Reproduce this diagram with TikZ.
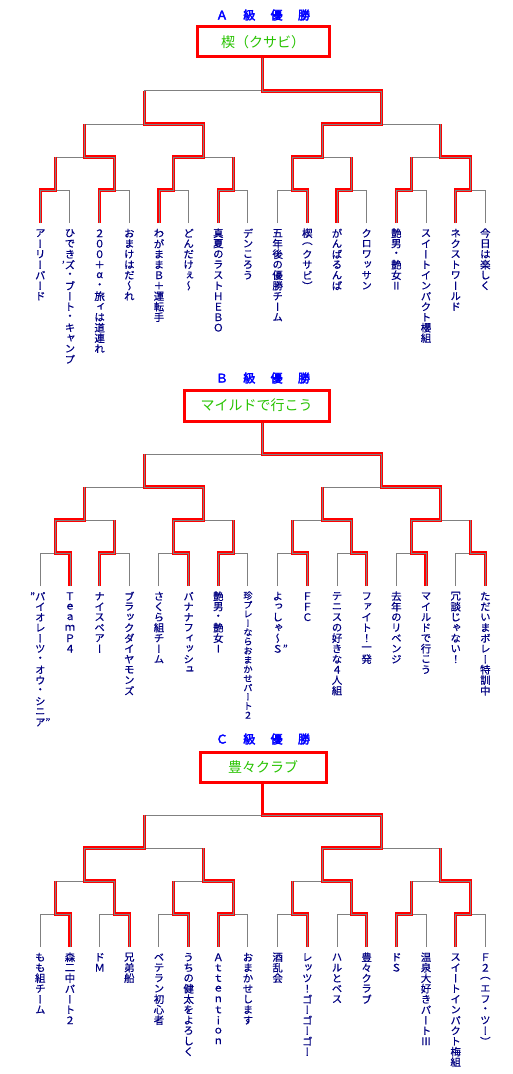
\documentclass[tikz,border=0pt]{standalone}
\usepackage{fontspec}
\newfontfamily\jp{Noto Sans CJK JP}
\newfontfamily\jpv[RawFeature=+vert,FakeBold=0.5]{Noto Sans CJK JP}
\newfontfamily\jpb[FakeBold=3]{Noto Sans CJK JP}
\definecolor{navy}{RGB}{0,0,128}
\definecolor{wingreen}{RGB}{40,195,0}
\definecolor{lgray}{RGB}{128,128,128}
\newlength\vtpitch
\setlength\vtpitch{7.875pt}
\newcommand\vtc[1]{\vbox to \vtpitch{\vss\hbox to 8pt{\hss#1\hss}\vss}}
\ExplSyntaxOn
\NewDocumentCommand\vt{m}{\vbox{\offinterlineskip\tl_map_inline:nn{#1}{\vtc{##1}}}}
\ExplSyntaxOff
\newcommand\tb[1]{\makebox[20.5pt]{#1}}
\tikzset{
 skel/.style={draw=lgray, line width=0.75pt},
 win/.style={draw=red, line width=0.9pt, double=lgray, double distance=0.55pt},
 team/.style={anchor=north, inner sep=0pt, yshift=-3.5pt, text=navy, font=\jpv\fontsize{7.8pt}{7.875pt}\selectfont},
 winbox/.style={draw=red, line width=2.25pt, inner sep=0pt, text=wingreen, font=\jp\fontsize{10.5pt}{12pt}\selectfont},
 ttl/.style={inner sep=0pt, text=blue, font=\jpb\fontsize{9pt}{10pt}\selectfont},
}
\newcommand\bracket[3]{%
 \foreach \i in {0,...,15}{\coordinate (#1-b-\i) at ({40.3+29.67*\i},{223+#2});}
 \foreach \i in {0,...,7}{\coordinate (#1-4-\i) at ({40.3+29.67*(2*\i+0.5)},{190+#2});}
 \foreach \i in {0,...,3}{\coordinate (#1-3-\i) at ({40.3+29.67*(4*\i+1.5)},{157+#2});}
 \foreach \i in {0,1}{\coordinate (#1-2-\i) at ({40.3+29.67*(8*\i+3.5)},{124+#2});}
 \coordinate (#1-1) at ({40.3+29.67*7.5},{91+#2});
 \foreach \i in {0,...,15}{\pgfmathtruncatemacro\jj{\i/2}\draw[skel] (#1-b-\i) |- (#1-4-\jj);}
 \foreach \i in {0,...,7}{\pgfmathtruncatemacro\kk{\i/2}\draw[skel] (#1-4-\i) |- (#1-3-\kk);}
 \foreach \i in {0,...,3}{\pgfmathtruncatemacro\mm{\i/2}\draw[skel] (#1-3-\i) |- (#1-2-\mm);}
 \foreach \i in {0,1}{\draw[skel] (#1-2-\i) |- (#1-1);}
 \foreach \w [count=\i from 0] in {#3}{%
   \pgfmathtruncatemacro\jj{\i/2}\pgfmathtruncatemacro\kk{\i/4}\pgfmathtruncatemacro\mm{\i/8}%
   \ifcase\w\or
     \draw[win] (#1-b-\i) |- (#1-4-\jj) -- (#1-4-\jj |- #1-3-\kk);
   \or
     \draw[win] (#1-b-\i) |- (#1-4-\jj) |- (#1-3-\kk) -- (#1-3-\kk |- #1-2-\mm);
   \or
     \draw[win] (#1-b-\i) |- (#1-4-\jj) |- (#1-3-\kk) |- (#1-2-\mm) -- (#1-2-\mm |- #1-1);
   \or
     \draw[win] (#1-b-\i) |- (#1-4-\jj) |- (#1-3-\kk) |- (#1-2-\mm) |- (#1-1) -- (#1-1 |- #1-win.south);
   \fi}%
}
\begin{document}
\begin{tikzpicture}[x=0.75pt,y=-0.75pt]
\fill[white] (0,0) rectangle (513,1074);
\useasboundingbox (0,0) rectangle (513,1074);
% ---------- A ----------
\node[ttl] (A-title) at (263,15) {\tb{Ａ}\tb{級}\tb{優}\tb{勝}};
\node[winbox, minimum width=99pt, minimum height=22.5pt] (A-win) at (263,42) {楔（クサビ）};
\bracket{A}{0}{1,0,2,0,3,0,1,0,0,4,1,0,1,0,2,0}
\node[team] (A-t-0) at (A-b-0) {\vt{アーリーバード}};
\node[team] (A-t-1) at (A-b-1) {\vt{ひでき{\llap{’}ズ}・ブート・キャンプ}};
\node[team] (A-t-2) at (A-b-2) {\vt{２００＋α・旅ィは道連れ}};
\node[team] (A-t-3) at (A-b-3) {\vt{おまけはだ～れ}};
\node[team] (A-t-4) at (A-b-4) {\vt{わがままＢ＋運転手}};
\node[team] (A-t-5) at (A-b-5) {\vt{どんだけぇ～}};
\node[team] (A-t-6) at (A-b-6) {\vt{真夏のラストＨＥＢＯ}};
\node[team] (A-t-7) at (A-b-7) {\vt{デンころう}};
\node[team] (A-t-8) at (A-b-8) {\vt{五年後の優勝チーム}};
\node[team] (A-t-9) at (A-b-9) {\vt{楔︵クサビ︶}};
\node[team] (A-t-10) at (A-b-10) {\vt{がんばるんば}};
\node[team] (A-t-11) at (A-b-11) {\vt{クロワッサン}};
\node[team] (A-t-12) at (A-b-12) {\vt{艶男・艶女Ⅱ}};
\node[team] (A-t-13) at (A-b-13) {\vt{スイートインパクト櫻組}};
\node[team] (A-t-14) at (A-b-14) {\vt{ネクストワールド}};
\node[team] (A-t-15) at (A-b-15) {\vt{今日は楽しく}};
% ---------- B ----------
\node[ttl] (B-title) at (263,378) {\tb{Ｂ}\tb{級}\tb{優}\tb{勝}};
\node[winbox, minimum width=108.75pt, minimum height=23.25pt] (B-win) at (256.5,405.5) {マイルドで行こう};
\bracket{B}{363}{0,2,1,0,0,3,1,0,0,1,0,2,0,4,0,1}
\node[team] (B-t-0) at (B-b-0) {\vt{{\llap{”}パ}イオレーツ・オウ・シニ{ア\rlap{”}}}};
\node[team] (B-t-1) at (B-b-1) {\vt{ＴｅａｍＰ４}};
\node[team] (B-t-2) at (B-b-2) {\vt{ナイスペアー}};
\node[team] (B-t-3) at (B-b-3) {\vt{ブラックダイヤモンズ}};
\node[team] (B-t-4) at (B-b-4) {\vt{さくら組チーム}};
\node[team] (B-t-5) at (B-b-5) {\vt{バナナフィッシュ}};
\node[team] (B-t-6) at (B-b-6) {\vt{艶男・艶女Ⅰ}};
\node[team] (B-t-7) at (B-b-7) {\setlength\vtpitch{6.9pt}\fontsize{6.9pt}{6.9pt}\selectfont\vt{珍プレーならおまかせパート２}};
\node[team] (B-t-8) at (B-b-8) {\vt{よっしゃ～{Ｓ\rlap{”}}}};
\node[team] (B-t-9) at (B-b-9) {\vt{ＦＦＣ}};
\node[team] (B-t-10) at (B-b-10) {\vt{テニスの好きな４人組}};
\node[team] (B-t-11) at (B-b-11) {\vt{ファイト！一発}};
\node[team] (B-t-12) at (B-b-12) {\vt{去年のリベンジ}};
\node[team] (B-t-13) at (B-b-13) {\vt{マイルドで行こう}};
\node[team] (B-t-14) at (B-b-14) {\vt{冗談じゃない！}};
\node[team] (B-t-15) at (B-b-15) {\vt{ただいまボレー特訓中}};
% ---------- C ----------
\node[ttl] (C-title) at (263,739) {\tb{Ｃ}\tb{級}\tb{優}\tb{勝}};
\node[winbox, minimum width=94.5pt, minimum height=22.5pt] (C-win) at (263,767) {豊々クラブ};
\bracket{C}{724}{0,1,0,3,0,1,2,0,0,1,0,4,1,0,2,0}
\draw[red, line width=2.25pt] (C-1) -- (C-1 |- C-win.south);
\node[team] (C-t-0) at (C-b-0) {\vt{もも組チーム}};
\node[team] (C-t-1) at (C-b-1) {\vt{森二中パート２}};
\node[team] (C-t-2) at (C-b-2) {\vt{ドＭ}};
\node[team] (C-t-3) at (C-b-3) {\vt{兄弟船}};
\node[team] (C-t-4) at (C-b-4) {\vt{ベテラン初心者}};
\node[team] (C-t-5) at (C-b-5) {\vt{うちの健太をよろしく}};
\node[team] (C-t-6) at (C-b-6) {\vt{Ａｔｔｅｎｔｉｏｎ}};
\node[team] (C-t-7) at (C-b-7) {\vt{おまかせします}};
\node[team] (C-t-8) at (C-b-8) {\vt{酒乱会}};
\node[team] (C-t-9) at (C-b-9) {\vt{レッツ！ゴーゴーゴー}};
\node[team] (C-t-10) at (C-b-10) {\vt{ハルとベス}};
\node[team] (C-t-11) at (C-b-11) {\vt{豊々クラブ}};
\node[team] (C-t-12) at (C-b-12) {\vt{ドＳ}};
\node[team] (C-t-13) at (C-b-13) {\vt{温泉大好きパートⅢ}};
\node[team] (C-t-14) at (C-b-14) {\vt{スイートインパクト梅組}};
\node[team] (C-t-15) at (C-b-15) {\vt{Ｆ２︵エフ・ツー︶}};
\end{tikzpicture}
\end{document}
